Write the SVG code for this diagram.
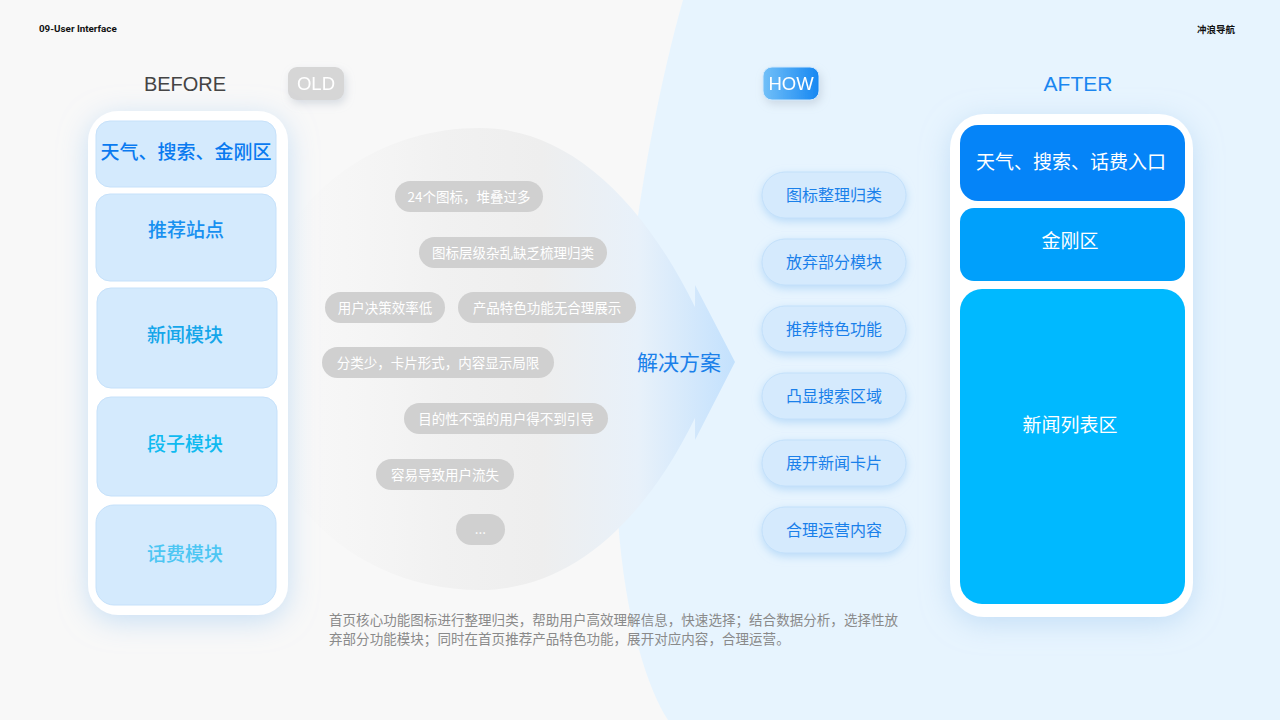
<svg xmlns="http://www.w3.org/2000/svg" width="1280" height="720" viewBox="0 0 1280 720">
<defs>
<style>
.cn{font-family:"Noto Sans CJK SC","Noto Sans",sans-serif}
.lat{font-family:"Liberation Sans",Arial,sans-serif}
.blk{fill:#d4eafd;stroke:#c6e1fa;stroke-width:1}
.blkt{font-size:19px;font-weight:500;text-anchor:middle}
.chip{fill:#d0d0d0}
.chipt{font-size:13.5px;fill:#ffffff;text-anchor:middle}
.pill{fill:#d5eafd;stroke:#c3e0fa;stroke-width:1}
.pillt{font-size:16px;fill:#1a80ea;text-anchor:middle}
.aftt{font-size:19px;fill:#ffffff;text-anchor:middle}
</style>
<filter id="phoneSh" x="-30%" y="-20%" width="160%" height="140%">
<feDropShadow dx="0" dy="6" stdDeviation="14" flood-color="#b4d4f3" flood-opacity="0.7"/>
</filter>
<filter id="pillSh" x="-20%" y="-40%" width="140%" height="190%">
<feDropShadow dx="0" dy="3" stdDeviation="4" flood-color="#a6d0f7" flood-opacity="0.7"/>
</filter>
<filter id="tagSh" x="-30%" y="-30%" width="170%" height="190%">
<feDropShadow dx="2" dy="4" stdDeviation="4" flood-color="#9aa8b8" flood-opacity="0.35"/>
</filter>
<linearGradient id="blob" x1="250" y1="0" x2="735" y2="0" gradientUnits="userSpaceOnUse">
<stop offset="0" stop-color="#f8f8f8" stop-opacity="0"/>
<stop offset="0.2" stop-color="#f5f5f5" stop-opacity="0.7"/>
<stop offset="0.4" stop-color="#f1f1f1"/>
<stop offset="0.6" stop-color="#eeeeee"/>
<stop offset="0.8" stop-color="#e8f1fa"/>
<stop offset="1" stop-color="#c3e1fd"/>
</linearGradient>
<linearGradient id="howG" x1="0" y1="0" x2="1" y2="0">
<stop offset="0" stop-color="#72c0f8"/>
<stop offset="1" stop-color="#1687f2"/>
</linearGradient>
</defs>

<!-- background -->
<rect x="0" y="0" width="1280" height="720" fill="#f8f8f8"/>
<path d="M683,0 C635,170 610,400 618,520 C625,620 648,690 668,720 L1280,720 L1280,0 Z" fill="#e7f4fe"/>

<!-- header -->
<text x="39" y="32" font-family="Roboto,'Liberation Sans',sans-serif" font-size="9.8" font-weight="700" fill="#111">09-User Interface</text>
<text x="1235" y="33" class="cn" font-size="9.5" font-weight="700" fill="#111" text-anchor="end">冲浪导航</text>

<!-- arrow blob -->
<g id="arrow">
<path d="M480,128 C565,128 640,195 695,307 L695,285 L735,362 L695,440 L695,418 C640,530 565,590 480,590 C350,590 250,490 250,359 C250,228 350,128 480,128 Z" fill="url(#blob)"/>
<text x="679" y="370" class="cn" font-size="21" fill="#1a80ea" text-anchor="middle">解决方案</text>
</g>

<!-- labels -->
<g id="labels">
<text x="185" y="91" class="lat" font-size="20" fill="#444" text-anchor="middle">BEFORE</text>
<g id="old" filter="url(#tagSh)">
<rect x="288" y="67" width="56" height="33" rx="9" fill="#d6d6d6"/>
<text x="316" y="90" class="lat" font-size="18.5" fill="#ffffff" text-anchor="middle">OLD</text>
</g>
<g id="how" filter="url(#tagSh)">
<rect x="763" y="67" width="56" height="33" rx="9" fill="url(#howG)" stroke="#cfe8fd" stroke-width="1"/>
<text x="791" y="90" class="lat" font-size="18.5" fill="#ffffff" text-anchor="middle">HOW</text>
</g>
<text x="1078" y="91" class="lat" font-size="21" fill="#1a86f0" text-anchor="middle">AFTER</text>
</g>

<!-- BEFORE phone -->
<g id="before-phone">
<rect x="88" y="111" width="200" height="504" rx="30" fill="#ffffff" filter="url(#phoneSh)"/>
<g id="b1"><rect class="blk" x="96" y="121" width="180" height="66" rx="14"/><text class="cn blkt" x="186" y="159" fill="#0a7af0">天气、搜索、金刚区</text></g>
<g id="b2"><rect class="blk" x="96" y="194" width="180" height="87" rx="14"/><text class="cn blkt" x="186" y="237" fill="#1790f0">推荐站点</text></g>
<g id="b3"><rect class="blk" x="97" y="288" width="180" height="100" rx="14"/><text class="cn blkt" x="185" y="342" fill="#15a6ea">新闻模块</text></g>
<g id="b4"><rect class="blk" x="97" y="397" width="180" height="99" rx="14"/><text class="cn blkt" x="185" y="451" fill="#0fbaf0">段子模块</text></g>
<g id="b5"><rect class="blk" x="96" y="505" width="180" height="100" rx="18"/><text class="cn blkt" x="185" y="561" fill="#4cc6f3">话费模块</text></g>
</g>

<!-- problem chips -->
<g id="chips">
<g id="c1"><rect class="chip" x="395" y="181" width="148" height="31" rx="15.5"/><text class="cn chipt" x="469" y="201.5">24个图标，堆叠过多</text></g>
<g id="c2"><rect class="chip" x="419" y="237" width="188" height="31" rx="15.5"/><text class="cn chipt" x="513" y="257.5">图标层级杂乱缺乏梳理归类</text></g>
<g id="c3"><rect class="chip" x="325" y="292" width="120" height="31" rx="15.5"/><text class="cn chipt" x="385" y="312.5">用户决策效率低</text></g>
<g id="c4"><rect class="chip" x="458" y="292" width="178" height="31" rx="15.5"/><text class="cn chipt" x="547" y="312.5">产品特色功能无合理展示</text></g>
<g id="c5"><rect class="chip" x="322" y="347" width="232" height="31" rx="15.5"/><text class="cn chipt" x="438" y="367.5">分类少，卡片形式，内容显示局限</text></g>
<g id="c6"><rect class="chip" x="404" y="403" width="204" height="31" rx="15.5"/><text class="cn chipt" x="506" y="423.5">目的性不强的用户得不到引导</text></g>
<g id="c7"><rect class="chip" x="376" y="459" width="138" height="31" rx="15.5"/><text class="cn chipt" x="445" y="479.5">容易导致用户流失</text></g>
<g id="c8"><rect class="chip" x="456" y="514" width="49" height="31" rx="15.5"/><text class="cn chipt" x="480.5" y="534">...</text></g>
</g>

<!-- solution pills -->
<g id="solutions">
<g id="s1"><rect class="pill" x="762" y="172" width="144" height="46" rx="23" filter="url(#pillSh)"/><text class="cn pillt" x="834" y="200.5">图标整理归类</text></g>
<g id="s2"><rect class="pill" x="762" y="239" width="144" height="46" rx="23" filter="url(#pillSh)"/><text class="cn pillt" x="834" y="267.5">放弃部分模块</text></g>
<g id="s3"><rect class="pill" x="762" y="306" width="144" height="46" rx="23" filter="url(#pillSh)"/><text class="cn pillt" x="834" y="334.5">推荐特色功能</text></g>
<g id="s4"><rect class="pill" x="762" y="373" width="144" height="46" rx="23" filter="url(#pillSh)"/><text class="cn pillt" x="834" y="401.5">凸显搜索区域</text></g>
<g id="s5"><rect class="pill" x="762" y="440" width="144" height="46" rx="23" filter="url(#pillSh)"/><text class="cn pillt" x="834" y="468.5">展开新闻卡片</text></g>
<g id="s6"><rect class="pill" x="762" y="507" width="144" height="46" rx="23" filter="url(#pillSh)"/><text class="cn pillt" x="834" y="535.5">合理运营内容</text></g>
</g>

<!-- AFTER phone -->
<g id="after-phone">
<rect x="950" y="114" width="243" height="503" rx="34" fill="#ffffff" filter="url(#phoneSh)"/>
<g id="a1"><rect x="960" y="125" width="225" height="76" rx="18" fill="#0584f8"/><text class="cn aftt" x="1071" y="169">天气、搜索、话费入口</text></g>
<g id="a2"><rect x="960" y="208" width="225" height="73" rx="14" fill="#00a0fb"/><text class="cn aftt" x="1070" y="248">金刚区</text></g>
<g id="a3"><rect x="960" y="289" width="225" height="315" rx="22" fill="#00b9ff"/><text class="cn aftt" x="1070" y="432">新闻列表区</text></g>
</g>

<!-- description -->
<g id="desc" class="cn" font-size="13.5" fill="#8a8a8a" letter-spacing="0.05">
<text x="329" y="625">首页核心功能图标进行整理归类，帮助用户高效理解信息，快速选择；结合数据分析，选择性放</text>
<text x="329" y="644">弃部分功能模块；同时在首页推荐产品特色功能，展开对应内容，合理运营。</text>
</g>
</svg>
